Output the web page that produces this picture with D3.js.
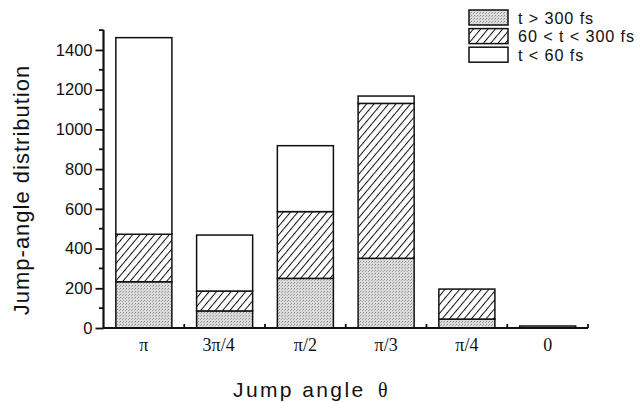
<!DOCTYPE html>
<html>
<head>
<meta charset="utf-8">
<script src="https://cdn.jsdelivr.net/npm/d3@7"></script>
<style>
  html, body { margin: 0; padding: 0; background: #fff; }
  svg { display: block; }
</style>
</head>
<body>
<svg id="chart" width="641" height="402"></svg>
<script>
// Jump angles (category axis)
const categories = ["π", "3π/4", "π/2", "π/3", "π/4", "0"];
// Stacked counts per residence-time class
const longTimes = [233, 86, 250, 351, 45, 10];      // t > 300 fs
const midTimes = [239, 100, 336, 780, 151, 0];      // 60 < t < 300 fs
const shortTimes = [990, 282, 332, 37, 0, 0];       // t < 60 fs
const seriesLabels = ["t > 300 fs", "60 < t < 300 fs", "t < 60 fs"];
const yTickValues = [0, 200, 400, 600, 800, 1000, 1200, 1400];

const svg = d3.select("#chart");
const defs = svg.append("defs");

// Fine stipple for the long-time class
const stip = defs.append("pattern")
  .attr("id", "stipple").attr("patternUnits", "userSpaceOnUse")
  .attr("width", 3).attr("height", 3);
stip.append("rect").attr("width", 3).attr("height", 3).attr("fill", "#dcdcdc");
stip.append("rect").attr("x", 0).attr("y", 0).attr("width", 1).attr("height", 1).attr("fill", "#8c8c8c");
stip.append("rect").attr("x", 2).attr("y", 1).attr("width", 1).attr("height", 1).attr("fill", "#a8a8a8");

// Diagonal hatching for the intermediate class
const hatch = defs.append("pattern")
  .attr("id", "hatch").attr("patternUnits", "userSpaceOnUse")
  .attr("width", 5.6).attr("height", 10)
  .attr("patternTransform", "rotate(40)");
hatch.append("rect").attr("width", 5.6).attr("height", 10).attr("fill", "#fff");
hatch.append("line").attr("x1", 0.5).attr("y1", 0).attr("x2", 0.5).attr("y2", 10)
  .attr("stroke", "#111").attr("stroke-width", 1);

const fills = ["url(#stipple)", "url(#hatch)", "#fff"];

const x0 = 103.5, x1 = 588, yBase = 328;
const x = d3.scaleBand().domain(categories).range([x0, x1])
  .paddingInner(0.306).paddingOuter(0.153);
const y = d3.scaleLinear().domain([0, 1500]).range([yBase, yBase - 1500 * 0.1986]);

const rows = categories.map((c, i) => ({
  cat: c, long: longTimes[i], mid: midTimes[i], short: shortTimes[i]
}));
const stack = d3.stack().keys(["long", "mid", "short"])(rows);

// Bars
stack.forEach((layer, li) => {
  svg.append("g").selectAll("rect").data(layer.filter(d => d[1] > d[0])).join("rect")
    .attr("x", d => x(d.data.cat))
    .attr("width", x.bandwidth())
    .attr("y", d => y(d[1]))
    .attr("height", d => y(d[0]) - y(d[1]))
    .attr("fill", fills[li])
    .attr("stroke", "#111")
    .attr("stroke-width", 1.5);
});

// Y axis with major (labelled) and minor ticks
const yAxisG = svg.append("g").attr("transform", `translate(${x0},0)`);
yAxisG.call(d3.axisLeft(y).tickValues(yTickValues).tickSize(8).tickPadding(3).tickFormat(d3.format("d")))
  .call(g => g.select(".domain").remove());
yAxisG.selectAll(".tick line").attr("stroke", "#111").attr("stroke-width", 1.8);
yAxisG.selectAll(".tick text")
  .attr("font-family", "'Liberation Sans', Arial, sans-serif")
  .attr("font-size", 16.5).attr("fill", "#111");
const minor = d3.range(100, 1600, 200);
yAxisG.selectAll(".minor").data(minor).join("line")
  .attr("x1", -4.5).attr("x2", 0)
  .attr("y1", d => y(d)).attr("y2", d => y(d))
  .attr("stroke", "#111").attr("stroke-width", 1.8);
yAxisG.append("line").attr("x1", 0).attr("x2", 0)
  .attr("y1", y(0) + 1).attr("y2", y(1500))
  .attr("stroke", "#111").attr("stroke-width", 2.2);

// X axis: baseline, upward ticks at category boundaries, labels
const xg = svg.append("g");
xg.append("line").attr("x1", x0).attr("x2", x1).attr("y1", yBase).attr("y2", yBase)
  .attr("stroke", "#111").attr("stroke-width", 2);
const step = x.step();
const bounds = categories.map((c, i) => x0 + step * (i + 1));
xg.selectAll(".xt").data(bounds).join("line")
  .attr("x1", d => d).attr("x2", d => d)
  .attr("y1", yBase).attr("y2", yBase - 4)
  .attr("stroke", "#111").attr("stroke-width", 1.8);
xg.selectAll(".xl").data(categories).join("text")
  .attr("x", d => x(d) + x.bandwidth() / 2 + (d === "3π/4" ? -6 : 0))
  .attr("y", 351)
  .attr("text-anchor", "middle")
  .attr("font-family", "'Liberation Serif', 'Times New Roman', serif")
  .attr("font-size", 18).attr("fill", "#111")
  .text(d => d);

// Axis titles
svg.append("text")
  .attr("transform", "translate(29,190) rotate(-90)")
  .attr("text-anchor", "middle")
  .attr("font-family", "'Liberation Sans', Arial, sans-serif")
  .attr("font-size", 22).attr("letter-spacing", 1).attr("fill", "#111")
  .text("Jump-angle distribution");
const xt = svg.append("text")
  .attr("x", 233).attr("y", 397)
  .attr("font-family", "'Liberation Sans', Arial, sans-serif")
  .attr("font-size", 21).attr("letter-spacing", 2.4).attr("fill", "#111");
xt.append("tspan").text("Jump angle");
xt.append("tspan").attr("x", 378).attr("font-family", "'Liberation Serif', serif")
  .attr("font-size", 20).attr("letter-spacing", 0).text("θ");

// Legend
const lg = svg.append("g");
const legendRows = seriesLabels.map((s, i) => ({ label: s, fill: fills[i], i }));
lg.selectAll("rect").data(legendRows).join("rect")
  .attr("x", 469).attr("y", d => 10 + d.i * 18.6)
  .attr("width", 39).attr("height", 15)
  .attr("fill", d => d.fill).attr("stroke", "#111").attr("stroke-width", 1.5);
lg.selectAll("text").data(legendRows).join("text")
  .attr("x", 518).attr("y", d => 23.5 + d.i * 18.6)
  .attr("font-family", "'Liberation Sans', Arial, sans-serif")
  .attr("font-size", 16.2).attr("letter-spacing", 0.9).attr("fill", "#111")
  .text(d => d.label);
</script>
</body>
</html>
